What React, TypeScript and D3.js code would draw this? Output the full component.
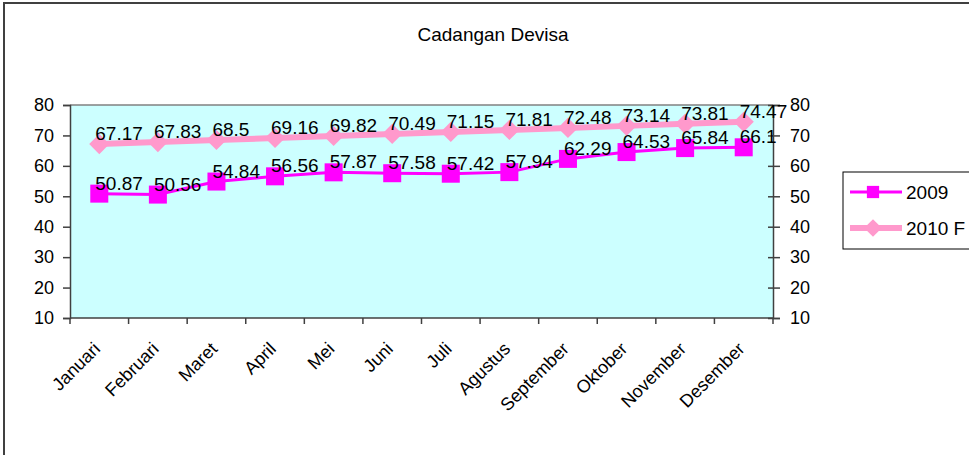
// App.tsx
import React, { useEffect, useRef } from 'react';
import * as d3 from 'd3';

const months = ['Januari', 'Februari', 'Maret', 'April', 'Mei', 'Juni', 'Juli', 'Agustus', 'September', 'Oktober', 'November', 'Desember'];
const values2009 = [50.87, 50.56, 54.84, 56.56, 57.87, 57.58, 57.42, 57.94, 62.29, 64.53, 65.84, 66.1];
const values2010 = [67.17, 67.83, 68.5, 69.16, 69.82, 70.49, 71.15, 71.81, 72.48, 73.14, 73.81, 74.47];
const yTicks = [10, 20, 30, 40, 50, 60, 70, 80];
const seriesNames = ['2009', '2010 F'];

const App: React.FC = () => {
  const ref = useRef<SVGSVGElement | null>(null);

  useEffect(() => {
    if (!ref.current) return;
    const svg = d3.select(ref.current);
    svg.selectAll('*').remove();

    const plot = { left: 70, right: 773, top: 105, bottom: 318 };
    const font = 'Liberation Sans, Arial, sans-serif';

    // outer chart frame (cut off on the right and bottom like the source)
    svg.append('rect')
      .attr('x', 4).attr('y', 3)
      .attr('width', 1000).attr('height', 500)
      .attr('fill', 'white')
      .attr('stroke', '#404040')
      .attr('stroke-width', 2);

    svg.append('text')
      .attr('x', 493).attr('y', 41)
      .attr('text-anchor', 'middle')
      .style('font-family', font)
      .style('font-size', '19px')
      .text('Cadangan Devisa');

    const x = d3.scaleBand().domain(months).range([plot.left, plot.right]);
    const y = d3.scaleLinear().domain([10, 80]).range([plot.bottom, plot.top]);
    const cx = (m: string) => (x(m) || 0) + x.bandwidth() / 2;

    // plot background
    svg.append('rect')
      .attr('x', plot.left).attr('y', plot.top)
      .attr('width', plot.right - plot.left)
      .attr('height', plot.bottom - plot.top)
      .attr('fill', '#CCFFFF');
    svg.append('line')
      .attr('x1', plot.left).attr('x2', plot.right)
      .attr('y1', plot.top).attr('y2', plot.top)
      .attr('stroke', '#808080').attr('stroke-width', 1.5);

    // left axis
    const left = svg.append('g')
      .attr('transform', `translate(${plot.left},0)`)
      .call(d3.axisLeft(y).tickValues(yTicks).tickSize(7).tickPadding(9));
    // right axis (ticks cross the line)
    const right = svg.append('g')
      .attr('transform', `translate(${plot.right},0)`)
      .call(d3.axisRight(y).tickValues(yTicks).tickSize(7).tickPadding(10));
    right.selectAll('.tick line').attr('x1', -5);
    // bottom axis ticks at band edges
    const bottom = svg.append('g')
      .attr('transform', `translate(0,${plot.bottom})`);
    bottom.append('line')
      .attr('x1', plot.left).attr('x2', plot.right)
      .attr('stroke', '#404040').attr('stroke-width', 1.5);
    bottom.selectAll('.edge')
      .data(d3.range(months.length + 1))
      .enter().append('line')
      .attr('x1', i => plot.left + i * x.bandwidth())
      .attr('x2', i => plot.left + i * x.bandwidth())
      .attr('y1', 0).attr('y2', 6)
      .attr('stroke', '#404040').attr('stroke-width', 1.5);
    bottom.selectAll('.lbl')
      .data(months)
      .enter().append('text')
      .attr('transform', d => `translate(${cx(d) + 2},${32}) rotate(-45)`)
      .attr('text-anchor', 'end')
      .style('font-family', font)
      .style('font-size', '18px')
      .text(d => d);

    [left, right].forEach(g => {
      g.select('.domain').attr('stroke', '#404040').attr('stroke-width', 1.5);
      g.selectAll('.tick line').attr('stroke', '#404040').attr('stroke-width', 1.5);
      g.selectAll('.tick text')
        .style('font-family', font)
        .style('font-size', '18px')
        .attr('fill', 'black');
    });

    const line = d3.line<number>()
      .x((_, i) => cx(months[i]))
      .y(d => y(d));

    // 2009 series
    svg.append('path')
      .datum(values2009)
      .attr('d', line)
      .attr('fill', 'none')
      .attr('stroke', '#FF00FF')
      .attr('stroke-width', 3);
    svg.selectAll('.sq')
      .data(values2009)
      .enter().append('rect')
      .attr('x', (_, i) => cx(months[i]) - 9)
      .attr('y', d => y(d) - 9)
      .attr('width', 18).attr('height', 18)
      .attr('fill', '#FF00FF');

    // 2010 F series
    const diamond = d3.symbol().type(d3.symbolDiamond2).size(260);
    svg.append('path')
      .datum(values2010)
      .attr('d', line)
      .attr('fill', 'none')
      .attr('stroke', '#FF99CC')
      .attr('stroke-width', 6);
    svg.selectAll('.dm')
      .data(values2010)
      .enter().append('path')
      .attr('d', diamond)
      .attr('transform', (d, i) => `translate(${cx(months[i])},${y(d)})`)
      .attr('fill', '#FF99CC');

    // data labels
    [values2009, values2010].forEach(vals => {
      svg.selectAll(null)
        .data(vals)
        .enter().append('text')
        .attr('x', (_, i) => cx(months[i]) - 4)
        .attr('y', d => y(d) - 4)
        .style('font-family', font)
        .style('font-size', '19px')
        .text(d => String(d));
    });

    // legend
    const legend = svg.append('g').attr('transform', 'translate(843,172)');
    legend.append('rect')
      .attr('width', 200).attr('height', 77)
      .attr('fill', 'white')
      .attr('stroke', 'black').attr('stroke-width', 1);
    const items = legend.selectAll('.item')
      .data(seriesNames)
      .enter().append('g')
      .attr('transform', (_, i) => `translate(0,${20 + i * 36})`);
    items.append('line')
      .attr('x1', 7).attr('x2', 59)
      .attr('stroke', (_, i) => (i === 0 ? '#FF00FF' : '#FF99CC'))
      .attr('stroke-width', (_, i) => (i === 0 ? 3 : 6));
    items.append('path')
      .attr('d', (_, i) => (i === 0 ? d3.symbol().type(d3.symbolSquare).size(150)() : d3.symbol().type(d3.symbolDiamond2).size(200)()))
      .attr('transform', 'translate(30,0)')
      .attr('fill', (_, i) => (i === 0 ? '#FF00FF' : '#FF99CC'));
    items.append('text')
      .attr('x', 63).attr('y', 7)
      .style('font-family', font)
      .style('font-size', '19px')
      .text(d => d);
  }, []);

  return <svg ref={ref} width={969} height={455} style={{ position: 'absolute', left: 0, top: 0 }} />;
};

export default App;
